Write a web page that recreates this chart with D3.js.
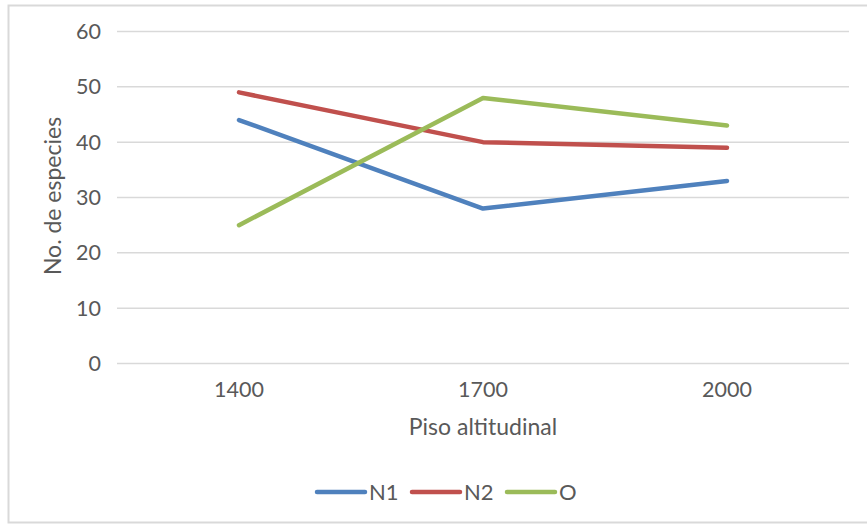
<!DOCTYPE html>
<html><head><meta charset="utf-8">
<script src="https://cdn.jsdelivr.net/npm/d3@7"></script>
<style>
body{margin:0;background:#fff;}
svg text{font-family:Lato, "Open Sans", sans-serif;fill:#595959;}
</style></head>
<body><svg id="c" width="867" height="525"></svg>
<script>
const categories = ["1400","1700","2000"];
const seriesNames = ["N1","N2","O"];
const N1 = [44,28,33];
const N2 = [49,40,39];
const O = [25,48,43];
const yTicks = [0,10,20,30,40,50,60];
const colors = ["#4F81BD","#C0504D","#9BBB59"];
const series = [N1,N2,O];

const svg = d3.select("#c");
svg.append("rect").attr("x",8.5).attr("y",5.5).attr("width",870).attr("height",517)
  .attr("fill","#fff").attr("stroke","#d9d9d9").attr("stroke-width",2);

const x = d3.scaleBand().domain(categories).range([117,849]);
const y = d3.scaleLinear().domain([0,60]).range([363.5,31.5]);

svg.append("g").selectAll("line").data(yTicks).join("line")
  .attr("x1",117).attr("x2",849).attr("y1",d=>y(d)).attr("y2",d=>y(d))
  .attr("stroke","#d9d9d9").attr("stroke-width",1.5);

const yAxis = svg.append("g").attr("transform","translate(117,0)")
  .call(d3.axisLeft(y).tickValues(yTicks).tickSize(0).tickPadding(16));
yAxis.select(".domain").remove();
yAxis.selectAll("text").style("font-size","21.5px").attr("fill","#595959");

const xAxis = svg.append("g").attr("transform","translate(0,363.5)")
  .call(d3.axisBottom(x).tickSize(0).tickPadding(18));
xAxis.select(".domain").remove();
xAxis.selectAll("text").style("font-size","21.5px").attr("fill","#595959");

const line = d3.line().x((d,i)=>x(categories[i])+x.bandwidth()/2).y(d=>y(d));
series.forEach((s,k)=>{
  svg.append("path").datum(s).attr("d",line).attr("fill","none")
    .attr("stroke",colors[k]).attr("stroke-width",4.5).attr("stroke-linejoin","round").attr("stroke-linecap","round");
});

svg.append("text").attr("x",483).attr("y",435).attr("text-anchor","middle").style("font-size","23px").text("Piso altitudinal");
svg.append("text").attr("transform","translate(61,196) rotate(-90)").attr("text-anchor","middle").style("font-size","23px").text("No. de especies");

const legX = [317,412,507];
seriesNames.forEach((n,k)=>{
  svg.append("line").attr("x1",legX[k]).attr("x2",legX[k]+48).attr("y1",492).attr("y2",492)
    .attr("stroke",colors[k]).attr("stroke-width",4.5).attr("stroke-linecap","round");
  svg.append("text").attr("x",legX[k]+52).attr("y",500).style("font-size","22px").text(n);
});
</script></body></html>
